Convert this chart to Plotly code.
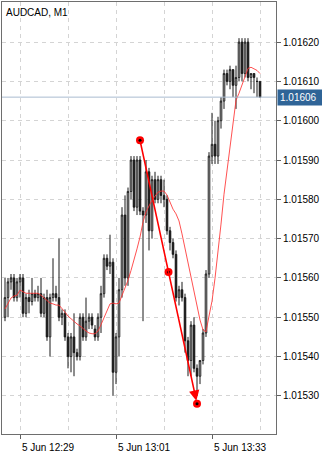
import plotly.graph_objects as go

# ---- data (AUDCAD M1, 5 Jun, bars from 12:24 to 13:49) ----
start_hour, start_min, n_bars = 12, 24, 86
times = []
for k in range(n_bars):
    t = start_hour * 60 + start_min + k
    times.append(f"{t // 60:02d}:{t % 60:02d}")

opens = [1.01550, 1.01555, 1.01559, 1.01560, 1.01555, 1.01559, 1.01560, 1.01551, 1.01555, 1.01554,
         1.01556, 1.01555, 1.01556, 1.01551, 1.01555, 1.01545, 1.01555, 1.01556, 1.01555, 1.01550,
         1.01551, 1.01545, 1.01540, 1.01545, 1.01541, 1.01540, 1.01550, 1.01545, 1.01549, 1.01550,
         1.01547, 1.01545, 1.01550, 1.01556, 1.01565, 1.01563, 1.01564, 1.01536, 1.01545, 1.01557,
         1.01576, 1.01560, 1.01582, 1.01590, 1.01578, 1.01590, 1.01577, 1.01576, 1.01587, 1.01572,
         1.01585, 1.01580, 1.01585, 1.01581, 1.01580, 1.01572, 1.01569, 1.01566, 1.01555, 1.01557,
         1.01555, 1.01544, 1.01539, 1.01548, 1.01537, 1.01535, 1.01539, 1.01546, 1.01561, 1.01591,
         1.01594, 1.01591, 1.01600, 1.01605, 1.01612, 1.01610, 1.01613, 1.01609, 1.01611, 1.01620,
         1.01612, 1.01620, 1.01611, 1.01612, 1.01610, 1.01610]
highs = [1.01560, 1.01560, 1.01561, 1.01561, 1.01560, 1.01561, 1.01561, 1.01556, 1.01557, 1.01560,
         1.01557, 1.01558, 1.01560, 1.01556, 1.01557, 1.01556, 1.01565, 1.01558, 1.01570, 1.01552,
         1.01552, 1.01546, 1.01546, 1.01551, 1.01542, 1.01551, 1.01551, 1.01555, 1.01551, 1.01551,
         1.01548, 1.01551, 1.01558, 1.01566, 1.01566, 1.01571, 1.01565, 1.01546, 1.01560, 1.01578,
         1.01581, 1.01583, 1.01591, 1.01591, 1.01591, 1.01591, 1.01578, 1.01590, 1.01588, 1.01586,
         1.01587, 1.01586, 1.01586, 1.01585, 1.01581, 1.01573, 1.01570, 1.01567, 1.01558, 1.01559,
         1.01556, 1.01545, 1.01549, 1.01550, 1.01538, 1.01539, 1.01547, 1.01562, 1.01592, 1.01602,
         1.01600, 1.01601, 1.01606, 1.01613, 1.01613, 1.01614, 1.01613, 1.01614, 1.01621, 1.01621,
         1.01621, 1.01621, 1.01612, 1.01612, 1.01611, 1.01610]
lows = [1.01549, 1.01550, 1.01557, 1.01554, 1.01554, 1.01555, 1.01550, 1.01550, 1.01551, 1.01553,
        1.01554, 1.01554, 1.01550, 1.01550, 1.01544, 1.01540, 1.01554, 1.01554, 1.01549, 1.01548,
        1.01544, 1.01537, 1.01536, 1.01535, 1.01539, 1.01539, 1.01544, 1.01544, 1.01547, 1.01547,
        1.01544, 1.01544, 1.01546, 1.01555, 1.01562, 1.01561, 1.01530, 1.01533, 1.01540, 1.01555,
        1.01558, 1.01558, 1.01580, 1.01577, 1.01576, 1.01576, 1.01549, 1.01574, 1.01567, 1.01570,
        1.01579, 1.01579, 1.01579, 1.01578, 1.01571, 1.01567, 1.01565, 1.01554, 1.01553, 1.01554,
        1.01541, 1.01535, 1.01535, 1.01536, 1.01530, 1.01533, 1.01538, 1.01545, 1.01560, 1.01589,
        1.01589, 1.01589, 1.01598, 1.01603, 1.01609, 1.01608, 1.01606, 1.01603, 1.01610, 1.01610,
        1.01611, 1.01610, 1.01608, 1.01607, 1.01606, 1.01606]
closes = [1.01555, 1.01559, 1.01560, 1.01555, 1.01559, 1.01560, 1.01551, 1.01555, 1.01554, 1.01556,
          1.01555, 1.01556, 1.01551, 1.01555, 1.01545, 1.01555, 1.01556, 1.01555, 1.01550, 1.01551,
          1.01545, 1.01540, 1.01545, 1.01541, 1.01540, 1.01550, 1.01545, 1.01549, 1.01550, 1.01548,
          1.01545, 1.01550, 1.01556, 1.01565, 1.01563, 1.01564, 1.01536, 1.01545, 1.01557, 1.01576,
          1.01560, 1.01582, 1.01590, 1.01578, 1.01590, 1.01577, 1.01576, 1.01587, 1.01572, 1.01585,
          1.01580, 1.01585, 1.01581, 1.01580, 1.01572, 1.01569, 1.01566, 1.01555, 1.01557, 1.01555,
          1.01544, 1.01539, 1.01548, 1.01537, 1.01535, 1.01539, 1.01546, 1.01561, 1.01591, 1.01594,
          1.01591, 1.01600, 1.01605, 1.01612, 1.01610, 1.01613, 1.01609, 1.01611, 1.01620, 1.01612,
          1.01620, 1.01611, 1.01612, 1.01611, 1.01610, 1.01606]
ma = [1.015521, 1.015534, 1.015549, 1.015554, 1.015556, 1.015569, 1.015564, 1.015561, 1.015561, 1.015561,
      1.015561, 1.015561, 1.015556, 1.015549, 1.015544, 1.015536, 1.015534, 1.015531, 1.015531, 1.015523,
      1.015513, 1.015503, 1.015496, 1.015488, 1.015483, 1.015478, 1.015471, 1.015465, 1.015460, 1.015458,
      1.015458, 1.015465, 1.015481, 1.015498, 1.015516, 1.015534, 1.015536, 1.015534, 1.015536, 1.015554,
      1.015574, 1.015594, 1.015619, 1.015644, 1.015674, 1.015704, 1.015742, 1.015768, 1.015783, 1.015798,
      1.015808, 1.015818, 1.015821, 1.015821, 1.015811, 1.015793, 1.015775, 1.015763, 1.015745, 1.015712,
      1.015675, 1.015637, 1.015599, 1.015561, 1.015523, 1.015493, 1.015468, 1.015463, 1.015503, 1.015541,
      1.015599, 1.015662, 1.015737, 1.015813, 1.015876, 1.015934, 1.016002, 1.016052, 1.016070, 1.016090,
      1.016110, 1.016133, 1.016136, 1.016133, 1.016128, 1.016120]

symbol_title = "AUDCAD, M1"
date_prefix = "5 Jun"
label_times = ["12:29", "13:01", "13:33"]
grid_only_times = ["12:45", "13:17", "13:49"]
price_ticks = [1.01530, 1.01540, 1.01550, 1.01560, 1.01570, 1.01580, 1.01590, 1.01600, 1.01610, 1.01620]
bid_price = 1.01606
arrow_start = ("13:09", 1.01595)
arrow_end = ("13:28", 1.01528)

# ---- figure ----
idx = list(range(n_bars))
pos = {t: i for i, t in enumerate(times)}

fig = go.Figure()
fig.add_trace(go.Candlestick(
    x=idx, open=opens, high=highs, low=lows, close=closes,
    increasing=dict(line=dict(color="#1a1a1a", width=1), fillcolor="#ffffff"),
    decreasing=dict(line=dict(color="#1a1a1a", width=1), fillcolor="#000000"),
    whiskerwidth=0, showlegend=False, hoverinfo="skip"))

fig.add_trace(go.Scatter(x=idx, y=ma, mode="lines",
                         line=dict(color="rgba(255,50,50,0.85)", width=1),
                         showlegend=False, hoverinfo="skip"))

ax0, ay0 = pos[arrow_start[0]], arrow_start[1]
ax1, ay1 = pos[arrow_end[0]], arrow_end[1]
mid_x, mid_y = (ax0 + ax1) / 2, (ay0 + ay1) / 2

fig.add_annotation(x=ax1, y=ay1, ax=ax0, ay=ay0, xref="x", yref="y", axref="x", ayref="y",
                   showarrow=True, arrowhead=2, arrowsize=1.3, arrowwidth=1.6,
                   arrowcolor="#ff0000", standoff=3, text="")
fig.add_trace(go.Scatter(x=[ax0, mid_x, ax1], y=[ay0, mid_y, ay1], mode="markers",
                         marker=dict(color="#ff0000", size=8, line=dict(width=0)),
                         showlegend=False, hoverinfo="skip"))
fig.add_trace(go.Scatter(x=[ax0, mid_x, ax1], y=[ay0, mid_y, ay1], mode="markers",
                         marker=dict(color="#000000", size=3, line=dict(width=0)),
                         showlegend=False, hoverinfo="skip"))

# bid line
fig.add_shape(type="line", xref="paper", x0=0, x1=1, yref="y", y0=bid_price, y1=bid_price,
              line=dict(color="#a9bbd0", width=1), layer="above")
fig.add_annotation(xref="paper", x=1, yref="y", y=bid_price, xanchor="left", yanchor="middle",
                   text=f"{bid_price:.5f}", showarrow=False, bgcolor="#2f6497",
                   font=dict(family="Liberation Sans", size=10, color="#ffffff"),
                   borderpad=2, width=40, align="left", xshift=1)

fig.add_annotation(xref="paper", yref="paper", x=0, y=1, xanchor="left", yanchor="top",
                   xshift=2, yshift=-3, text=symbol_title, showarrow=False,
                   font=dict(family="Liberation Sans", size=10, color="#000000"))

grid_style = dict(showgrid=True, gridcolor="#d4d4d4", gridwidth=1, griddash="4px,4px")

fig.update_layout(
    width=322, height=454,
    margin=dict(l=2, r=46, t=1, b=17),
    paper_bgcolor="#ffffff", plot_bgcolor="#ffffff",
    boxgap=0.25,
    font=dict(family="Liberation Sans", size=10, color="#000000"),
    xaxis=dict(range=[-1, 90.33], tickmode="array",
               tickvals=[pos[t] for t in label_times],
               ticktext=[f"{date_prefix} {t}" for t in label_times],
               ticks="outside", ticklen=4, tickcolor="#606060",
               ticklabelshift=28, ticklabelstandoff=0,
               showline=True, linecolor="#6e6e6e", linewidth=1, mirror=True,
               zeroline=False, rangeslider=dict(visible=False), fixedrange=True,
               minor=dict(tickmode="array", tickvals=[pos[t] for t in grid_only_times], ticks="",
                          **grid_style),
               **grid_style),
    yaxis=dict(range=[1.015203, 1.016302], side="right", tickmode="array",
               tickvals=price_ticks, ticktext=[f"{p:.5f}" for p in price_ticks],
               ticks="outside", ticklen=4, tickcolor="#606060",
               showline=True, linecolor="#6e6e6e", linewidth=1, mirror=True,
               zeroline=False, fixedrange=True, **grid_style),
)

fig.write_html("out.html")
